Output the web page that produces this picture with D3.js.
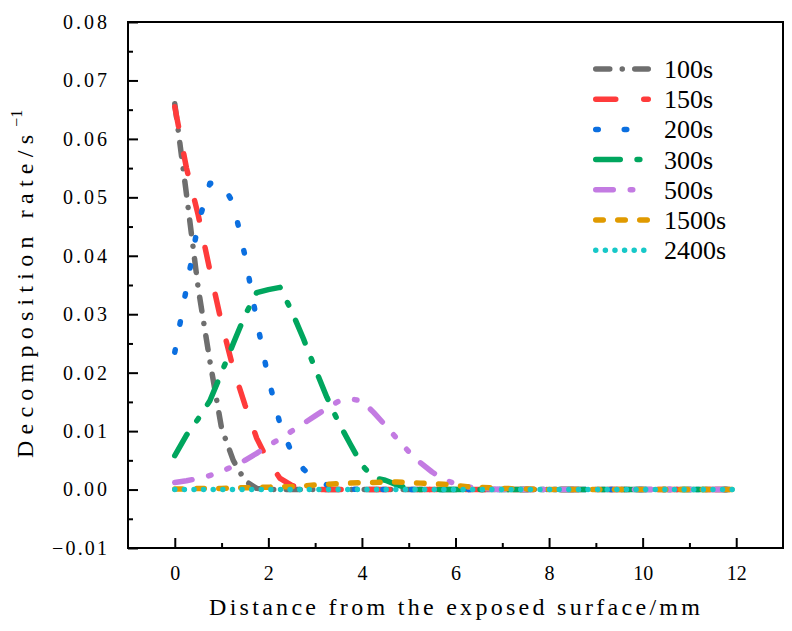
<!DOCTYPE html>
<html>
<head>
<meta charset="utf-8">
<script src="https://cdn.jsdelivr.net/npm/d3@7"></script>
<style>
  body { margin: 0; background: #fff; }
  svg { display: block; }
</style>
</head>
<body>
<div id="chart-area"></div>
<script>
const MARGIN = { LEFT: 128, RIGHT: 9, TOP: 22, BOTTOM: 83 }
const WIDTH = 792 - MARGIN.LEFT - MARGIN.RIGHT
const HEIGHT = 631 - MARGIN.TOP - MARGIN.BOTTOM

// distance from exposed surface (mm)
const distance = [0, 0.25, 0.5, 0.75, 1, 1.25, 1.5, 1.75, 2, 2.25, 2.5, 2.75, 3, 3.25, 3.5, 3.75,
  4, 4.25, 4.5, 4.75, 5, 5.25, 5.5, 5.75, 6, 6.25, 6.5, 6.75, 7, 8, 9, 10, 11, 12]

// decomposition rate (1/s) per time
const rate100 = [0.0660, 0.0505, 0.0345, 0.0220, 0.0105, 0.0050, 0.0015, 0.0002, 0, 0, 0, 0, 0, 0, 0, 0,
  0, 0, 0, 0, 0, 0, 0, 0, 0, 0, 0, 0, 0, 0, 0, 0, 0, 0]
const rate150 = [0.0655, 0.0550, 0.0470, 0.0375, 0.0285, 0.0207, 0.0145, 0.0088, 0.0048, 0.0019, 0.0007, 0.0001, 0, 0, 0, 0,
  0, 0, 0, 0, 0, 0, 0, 0, 0, 0, 0, 0, 0, 0, 0, 0, 0, 0]
const rate200 = [0.0235, 0.0345, 0.0455, 0.0524, 0.0525, 0.0490, 0.0400, 0.0290, 0.0190, 0.0112, 0.0063, 0.0035, 0.0017, 0.0008, 0.0003, 0.0001,
  0, 0, 0, 0, 0, 0, 0, 0, 0, 0, 0, 0, 0, 0, 0, 0, 0, 0]
const rate300 = [0.0058, 0.0093, 0.0121, 0.0152, 0.0200, 0.0250, 0.0298, 0.0337, 0.0342, 0.0346, 0.0305, 0.0258, 0.0207, 0.0158, 0.0115, 0.0078,
  0.0042, 0.0020, 0.0016, 0.0008, 0.0002, 0, 0, 0, 0, 0, 0, 0, 0, 0, 0, 0, 0, 0]
const rate500 = [0.0012, 0.0015, 0.0019, 0.0024, 0.0031, 0.0040, 0.0050, 0.0062, 0.0075, 0.0087, 0.0100, 0.0113, 0.0126, 0.0139, 0.0151, 0.0155,
  0.0152, 0.0132, 0.0110, 0.0087, 0.0065, 0.0046, 0.0030, 0.0017, 0.0010, 0.0005, 0.0002, 0.0001, 0, 0, 0, 0, 0, 0]
const rate1500 = [0.0001, 0.0001, 0.0002, 0.0002, 0.0002, 0.0003, 0.0003, 0.0004, 0.0004, 0.0005, 0.0005, 0.0006, 0.0008, 0.0009, 0.0010, 0.0011,
  0.0012, 0.0012, 0.0013, 0.0013, 0.0012, 0.0011, 0.0010, 0.0009, 0.0007, 0.0005, 0.0004, 0.0003, 0.0002, 0, 0, 0, 0, 0]
const rate2400 = [0, 0, 0, 0, 0, 0, 0, 0, 0, 0, 0, 0, 0, 0, 0, 0,
  0, 0, 0, 0, 0, 0, 0, 0, 0, 0, 0, 0, 0, 0, 0, 0, 0, 0]

const seriesNames = ["100s", "150s", "200s", "300s", "500s", "1500s", "2400s"]
const seriesValues = [rate100, rate150, rate200, rate300, rate500, rate1500, rate2400]

const xTicks = [0, 2, 4, 6, 8, 10, 12]
const yTicks = [-0.01, 0, 0.01, 0.02, 0.03, 0.04, 0.05, 0.06, 0.07, 0.08]

// Origin-like line styles
const colors = ["#6e6e6e", "#ff3b3b", "#0b6fe0", "#00a65e", "#c37be2", "#e09a00", "#17c8c8"]
const dashes = ["14,12.5,0.01,12.5", "20,28", "2.5,26", "24.5,16.8,2.8,16.8",
  "17.5,17,2.5,17,2.5,17", "7.5,14.5", "0.01,9.6"]

const FONT = "'Liberation Serif', 'Times New Roman', serif"

const svg = d3.select("#chart-area").append("svg")
  .attr("width", WIDTH + MARGIN.LEFT + MARGIN.RIGHT)
  .attr("height", HEIGHT + MARGIN.TOP + MARGIN.BOTTOM)
  .append("g")
  .attr("transform", `translate(${MARGIN.LEFT},${MARGIN.TOP})`)

const x = d3.scaleLinear().domain([-1, 13]).range([0, WIDTH])
const y = d3.scaleLinear().domain([-0.01, 0.08]).range([HEIGHT, 0])

// lines
const line = d3.line()
  .x((d, i) => x(distance[i]))
  .y(d => y(d))

seriesValues.forEach((vals, k) => {
  svg.append("path")
    .attr("d", line(vals))
    .attr("fill", "none")
    .attr("stroke", colors[k])
    .attr("stroke-width", 5.5)
    .attr("stroke-linecap", "round")
    .attr("stroke-linejoin", "round")
    .attr("stroke-dasharray", dashes[k])
})

// frame
svg.append("rect")
  .attr("width", WIDTH).attr("height", HEIGHT)
  .attr("fill", "none").attr("stroke", "#000").attr("stroke-width", 2)

// X axis (ticks inward)
const xAx = svg.append("g").attr("transform", `translate(0,${HEIGHT})`)
  .call(d3.axisBottom(x).tickValues(xTicks).tickSize(-10).tickPadding(18).tickFormat(d3.format("d")))
xAx.call(g => g.append("g").call(d3.axisBottom(x).tickValues([1, 3, 5, 7, 9, 11]).tickSize(-5).tickFormat("")))

// Y axis (ticks inward)
const yAx = svg.append("g")
  .call(d3.axisLeft(y).tickValues(yTicks).tickSize(-10).tickPadding(21).tickFormat(d3.format(".2f")))
yAx.call(g => g.append("g").call(d3.axisLeft(y).tickValues(d3.range(-0.005, 0.08, 0.01)).tickSize(-5).tickFormat("")))

svg.selectAll(".domain").remove()
svg.selectAll(".tick line").attr("stroke", "#000").attr("stroke-width", 2)
svg.selectAll(".tick text")
  .attr("fill", "#000")
  .style("font-family", FONT)
  .style("font-size", "20px")
yAx.selectAll(".tick text")
  .attr("lengthAdjust", "spacing")
  .attr("textLength", d => d < 0 ? 55 : 44)

// axis titles
svg.append("text")
  .attr("x", x(6) - 1)
  .attr("y", HEIGHT + 67)
  .attr("text-anchor", "middle")
  .attr("textLength", 491)
  .attr("lengthAdjust", "spacing")
  .style("font-family", FONT)
  .style("font-size", "24px")
  .text("Distance from the exposed surface/mm")

const yTitle = svg.append("text")
  .attr("transform", `translate(${33 - MARGIN.LEFT},${458 - MARGIN.TOP}) rotate(-90)`)
  .style("font-family", FONT)
  .style("font-size", "24px")
yTitle.append("tspan")
  .attr("textLength", 323)
  .attr("lengthAdjust", "spacing")
  .text("Decomposition rate/s")
yTitle.append("tspan").attr("dy", -11).attr("dx", 2).style("font-size", "16px").text("\u22121")

// legend
const legend = svg.append("g").attr("transform", `translate(${593 - MARGIN.LEFT},${69 - MARGIN.TOP})`)
seriesNames.forEach((name, k) => {
  const row = legend.append("g").attr("transform", `translate(0,${k * 30.2})`)
  row.append("line")
    .attr("x1", 2.75).attr("x2", 55.25)
    .attr("stroke", colors[k])
    .attr("stroke-width", 5.5)
    .attr("stroke-linecap", "round")
    .attr("stroke-dasharray", dashes[k])
  row.append("text")
    .attr("x", 71).attr("y", 9)
    .style("font-family", FONT)
    .style("font-size", "26px")
    .text(name)
})
</script>
</body>
</html>
